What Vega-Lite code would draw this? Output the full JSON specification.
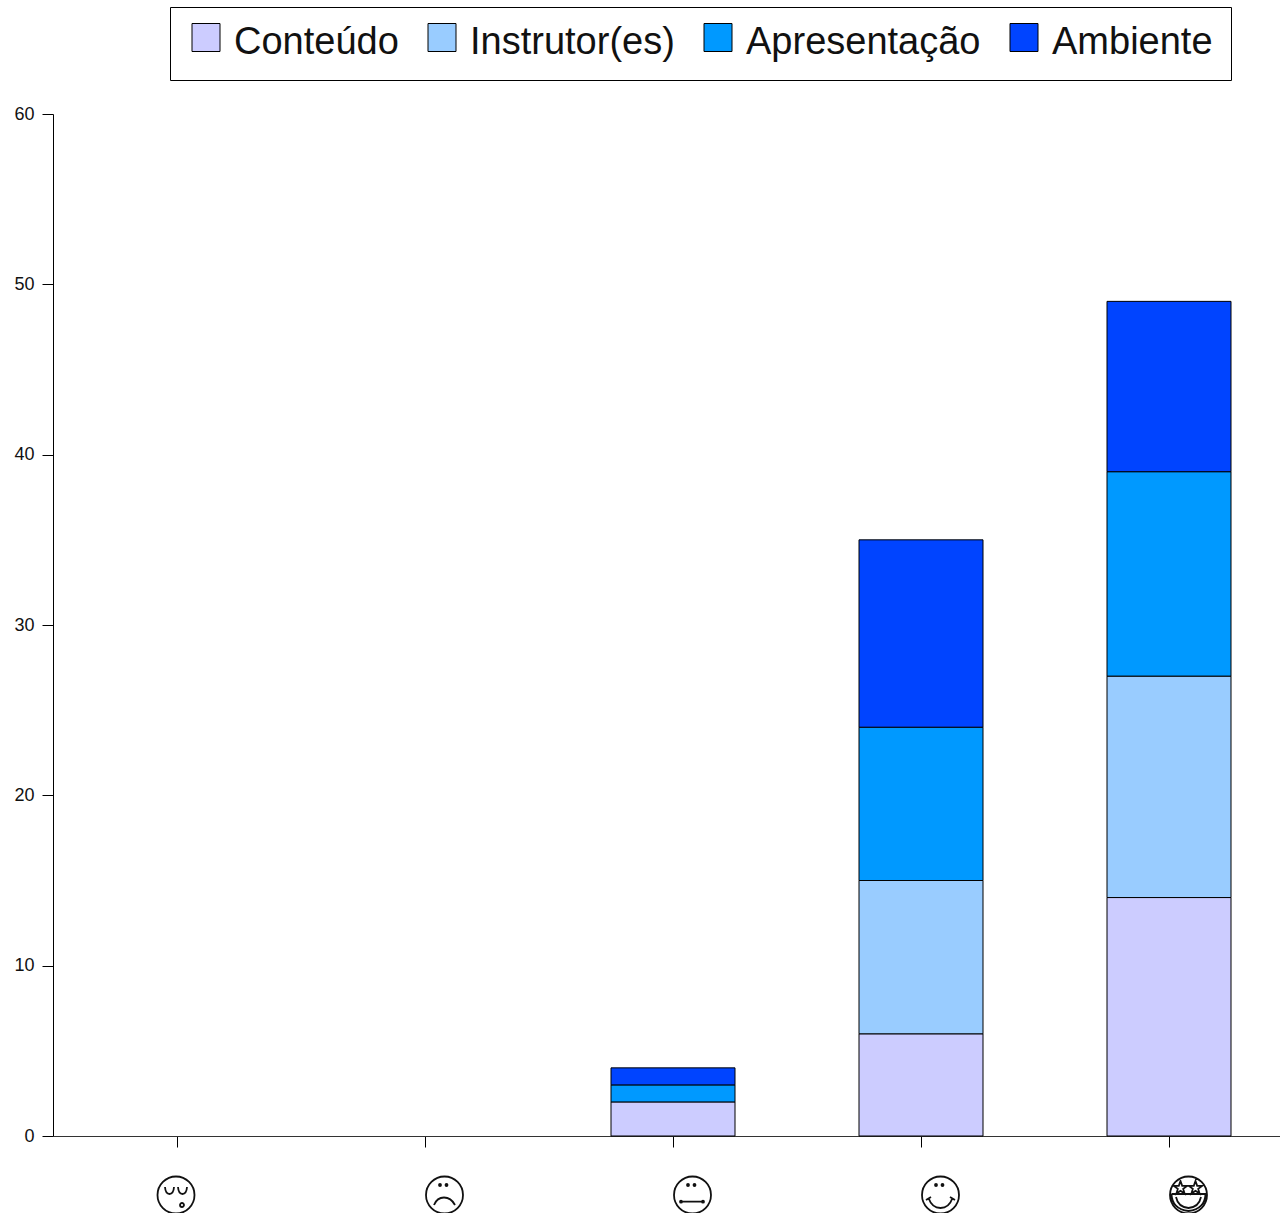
{
"$schema":"https://vega.github.io/schema/vega-lite/v6.json",
"width":1227,"height":1022,
"autosize":"none",
"padding":{"left":53,"top":114,"right":0,"bottom":77},
"background":"white",
"config":{"view":{"stroke":null},"font":"Liberation Sans"},
"layer":[
{"data":{"values":[
{"nota":"3","criterio":"Conteúdo","ordem":1,"valor":2},{"nota":"3","criterio":"Apresentação","ordem":3,"valor":1},{"nota":"3","criterio":"Ambiente","ordem":4,"valor":1},
{"nota":"4","criterio":"Conteúdo","ordem":1,"valor":6},{"nota":"4","criterio":"Instrutor(es)","ordem":2,"valor":9},{"nota":"4","criterio":"Apresentação","ordem":3,"valor":9},{"nota":"4","criterio":"Ambiente","ordem":4,"valor":11},
{"nota":"5","criterio":"Conteúdo","ordem":1,"valor":14},{"nota":"5","criterio":"Instrutor(es)","ordem":2,"valor":13},{"nota":"5","criterio":"Apresentação","ordem":3,"valor":12},{"nota":"5","criterio":"Ambiente","ordem":4,"valor":10}
]},
"mark":{"type":"bar","stroke":"#000","strokeWidth":1,"clip":false},
"encoding":{
"x":{"field":"nota","type":"nominal","scale":{"domain":["1","2","3","4","5"],"range":[0,1240],"paddingInner":0.5,"paddingOuter":0.25},
"axis":{"title":null,"labels":false,"tickSize":11,"tickColor":"#000","domainColor":"#333","domainWidth":1,"tickWidth":1,"grid":false}},
"y":{"field":"valor","type":"quantitative","stack":"zero","scale":{"domain":[0,60],"nice":false},
"axis":{"title":null,"values":[0,10,20,30,40,50,60],"tickSize":11,"tickColor":"#000","domainColor":"#000","labelFontSize":18,"labelColor":"#111","labelPadding":8,"labelFont":"Liberation Sans","grid":false}},
"order":{"field":"ordem","type":"quantitative"},
"color":{"field":"criterio","type":"nominal","scale":{"domain":["Conteúdo","Instrutor(es)","Apresentação","Ambiente"],"range":["#CCCCFF","#99CCFF","#0099FF","#0044FF"]},
"legend":{"title":null,"orient":"none","legendX":117,"legendY":-107,"direction":"horizontal","columns":4,"symbolType":"square","symbolSize":784,"symbolStrokeColor":"#000","symbolStrokeWidth":1,"symbolOffset":-1,"labelFontSize":38,"labelFont":"Liberation Sans","labelColor":"#111","labelOffset":9,"columnPadding":25,"padding":18,"strokeColor":"#000","fillColor":"#fff","symbolOpacity":1,"labelLimit":400,
"encode":{"symbols":{"update":{"y":{"value":12.5}}},"labels":{"update":{"dy":{"value":-1}}}}}}
}},
{"data":{"values":[{"nota":"1"},{"nota":"2"},{"nota":"3"},{"nota":"4"},{"nota":"5"}]},
"mark":{"type":"point","filled":false,"stroke":"#111","strokeWidth":1.8,"size":4,"opacity":1,"yOffset":59,"clip":false},
"encoding":{
"x":{"field":"nota","type":"nominal"},
"y":{"datum":0},
"shape":{"field":"nota","type":"nominal","legend":null,"scale":{"domain":["1","2","3","4","5"],"range":[
"M-19.5 0a18.5 18.5 0 1 0 37 0a18.5 18.5 0 1 0 -37 0M-12 -8Q-11.5 -1 -7.5 -1Q-3.5 -1 -3 -8M1 -8Q1.5 -1 5.5 -1Q9.5 -1 10 -8M3 10a2 2 0 1 0 4 0a2 2 0 1 0 -4 0",
"M1 0a18.5 18.5 0 1 0 37 0a18.5 18.5 0 1 0 -37 0M14 -10a1 1 0 1 0 2 0a1 1 0 1 0 -2 0M20.5 -10a1 1 0 1 0 2 0a1 1 0 1 0 -2 0M9 10Q12 2.5 19 2.5Q26 2.5 30 10",
"M1 0a18.5 18.5 0 1 0 37 0a18.5 18.5 0 1 0 -37 0M14 -10a1 1 0 1 0 2 0a1 1 0 1 0 -2 0M20.5 -10a1 1 0 1 0 2 0a1 1 0 1 0 -2 0M8 6.7L30 6.7M7 6.7a1 1 0 1 0 2 0a1 1 0 1 0 -2 0M29 6.7a1 1 0 1 0 2 0a1 1 0 1 0 -2 0",
"M1 0a18.5 18.5 0 1 0 37 0a18.5 18.5 0 1 0 -37 0M14 -10a1 1 0 1 0 2 0a1 1 0 1 0 -2 0M20.5 -10a1 1 0 1 0 2 0a1 1 0 1 0 -2 0M7.5 3Q11 13 19.5 13Q28 13 31.5 3M5 5L10 2M34 5L29 2",
"M1 0a18.5 18.5 0 1 0 37 0a18.5 18.5 0 1 0 -37 0M2.5 -1L36.5 -1Q36 14 19.5 16Q3 14 2.5 -1M7 2Q9 12 19.5 13Q30 12 32 2M11.5 -14l1.7 4.8l5 .1l-4 3l1.4 4.7l-4.1 -2.8l-4.1 2.8l1.4 -4.7l-4 -3l5 -.1zM26.5 -14l1.7 4.8l5 .1l-4 3l1.4 4.7l-4.1 -2.8l-4.1 2.8l1.4 -4.7l-4 -3l5 -.1z"
]}}
}}
]
}
